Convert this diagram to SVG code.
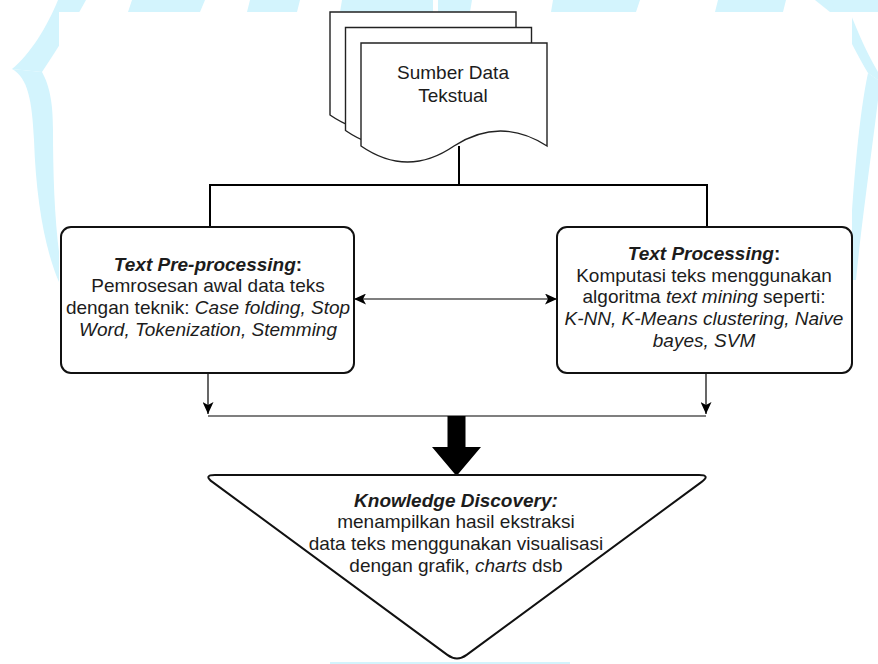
<svg xmlns="http://www.w3.org/2000/svg" width="878" height="664" viewBox="0 0 878 664">
<defs>
<style>
.wm{fill:#d3f4fd;stroke:none}
.node{fill:#fff;stroke:#111;stroke-width:2}
.doc{fill:#fff;stroke:#222;stroke-width:1.4}
.conn{fill:none;stroke:#000;stroke-width:2}
.thin{fill:none;stroke:#000;stroke-width:1.2}
text{font-family:"Liberation Sans",Arial,sans-serif;font-size:19px;fill:#1c1c1c;text-anchor:middle}
.bi{font-weight:bold;font-style:italic}
.b{font-weight:bold}
.i{font-style:italic}
</style>
<marker id="arr" markerUnits="userSpaceOnUse" markerWidth="12" markerHeight="11" refX="12" refY="5.5" orient="auto-start-reverse">
<path d="M0,0 L12,5.5 L0,11 L3,5.5 Z" fill="#000"/>
</marker>
</defs>
<g id="watermark">
<path class="wm" d="M58,0 L86,0 C75,20 60,45 42,72 L12,69 C30,55 48,25 58,0 Z"/>
<path class="wm" d="M12,69 C28,78 32,100 34,140 C36,200 45,250 59,282 L64,282 C55,240 53,180 53,130 C53,100 49,85 42,72 Z"/>
<path class="wm" d="M815,0 L845,0 C855,25 865,50 878,72 L878,80 L868,73 C860,60 850,40 840,20 Z"/>
<path class="wm" d="M868,73 L878,80 L878,100 C872,150 862,220 856,280 L848,280 C852,200 858,120 868,73 Z"/>
<path class="wm" d="M132,0 L205,0 L200,12 L128,12 Z"/>
<path class="wm" d="M250,0 L300,0 L297,12 L247,12 Z"/>
<path class="wm" d="M342,0 L433,0 L433,12 L340,12 Z"/>
<path class="wm" d="M438,0 L472,0 L470,12 L438,12 Z"/>
<path class="wm" d="M553,0 L640,0 L636,12 L551,12 Z"/>
<path class="wm" d="M718,0 L786,0 L783,12 L715,12 Z"/>
<path class="wm" d="M831,0 L878,0 L878,12 L835,12 Z"/>
<rect x="59" y="12" width="793" height="650" fill="#fff"/>
<rect class="wm" x="330" y="662" width="240" height="2"/>
</g>
<g id="connectors">
<line class="conn" x1="459" y1="146" x2="459" y2="185"/>
<polyline class="conn" points="210,227 210,185 707,185 707,227"/>
<line class="thin" x1="354" y1="299" x2="557" y2="299" marker-start="url(#arr)" marker-end="url(#arr)"/>
<line class="thin" x1="208" y1="373" x2="208" y2="414" marker-end="url(#arr)"/>
<line class="thin" x1="706" y1="373" x2="706" y2="414" marker-end="url(#arr)"/>
<line class="thin" x1="208" y1="416" x2="706" y2="416"/>
<path d="M447.5,416 L465.5,416 L465.5,447 L481,447 L456.5,476 L432,447 L447.5,447 Z" fill="#000"/>
</g>
<g id="sumber-data">
<path class="doc" d="M330,12 H516 V115 Q469.5,85 423,115 Q376.5,147 330,115 Z"/>
<path class="doc" d="M345.5,27.5 H531.5 V130.5 Q485,100.5 438.5,130.5 Q392,162.5 345.5,130.5 Z"/>
<path class="doc" d="M361,43 H547 V146 Q500.5,116 454,146 Q407.5,178 361,146 Z"/>
<text x="453" y="79">Sumber Data</text>
<text x="453" y="101.5">Tekstual</text>
</g>
<g id="pre-processing">
<rect class="node" x="61" y="227" width="293" height="146" rx="10"/>
<text x="208" y="270.5"><tspan class="bi">Text Pre-processing</tspan><tspan class="b">:</tspan></text>
<text x="208" y="292.2">Pemrosesan awal data teks</text>
<text x="208" y="313.9">dengan teknik: <tspan class="i">Case folding, Stop</tspan></text>
<text x="208" y="335.6" class="i">Word, Tokenization, Stemming</text>
</g>
<g id="processing">
<rect class="node" x="557" y="227" width="295" height="146" rx="10"/>
<text x="704" y="260"><tspan class="bi">Text Processing</tspan><tspan class="b">:</tspan></text>
<text x="704" y="281.7">Komputasi teks menggunakan</text>
<text x="704" y="303.4">algoritma <tspan class="i">text mining</tspan> seperti:</text>
<text x="704" y="325.1" class="i">K-NN, K-Means clustering, Naive</text>
<text x="704" y="346.8" class="i">bayes, SVM</text>
</g>
<g id="knowledge-discovery">
<path class="node" d="M215,475 L699,475 Q711,475 701.34,482.12 L466.66,654.88 Q457,662 447.34,654.88 L212.66,482.12 Q203,475 215,475 Z"/>
<text x="456" y="506.5" class="bi">Knowledge Discovery:</text>
<text x="456" y="528.2">menampilkan hasil ekstraksi</text>
<text x="456" y="549.9">data teks menggunakan visualisasi</text>
<text x="456" y="571.6">dengan grafik, <tspan class="i">charts</tspan> dsb</text>
</g>
</svg>
